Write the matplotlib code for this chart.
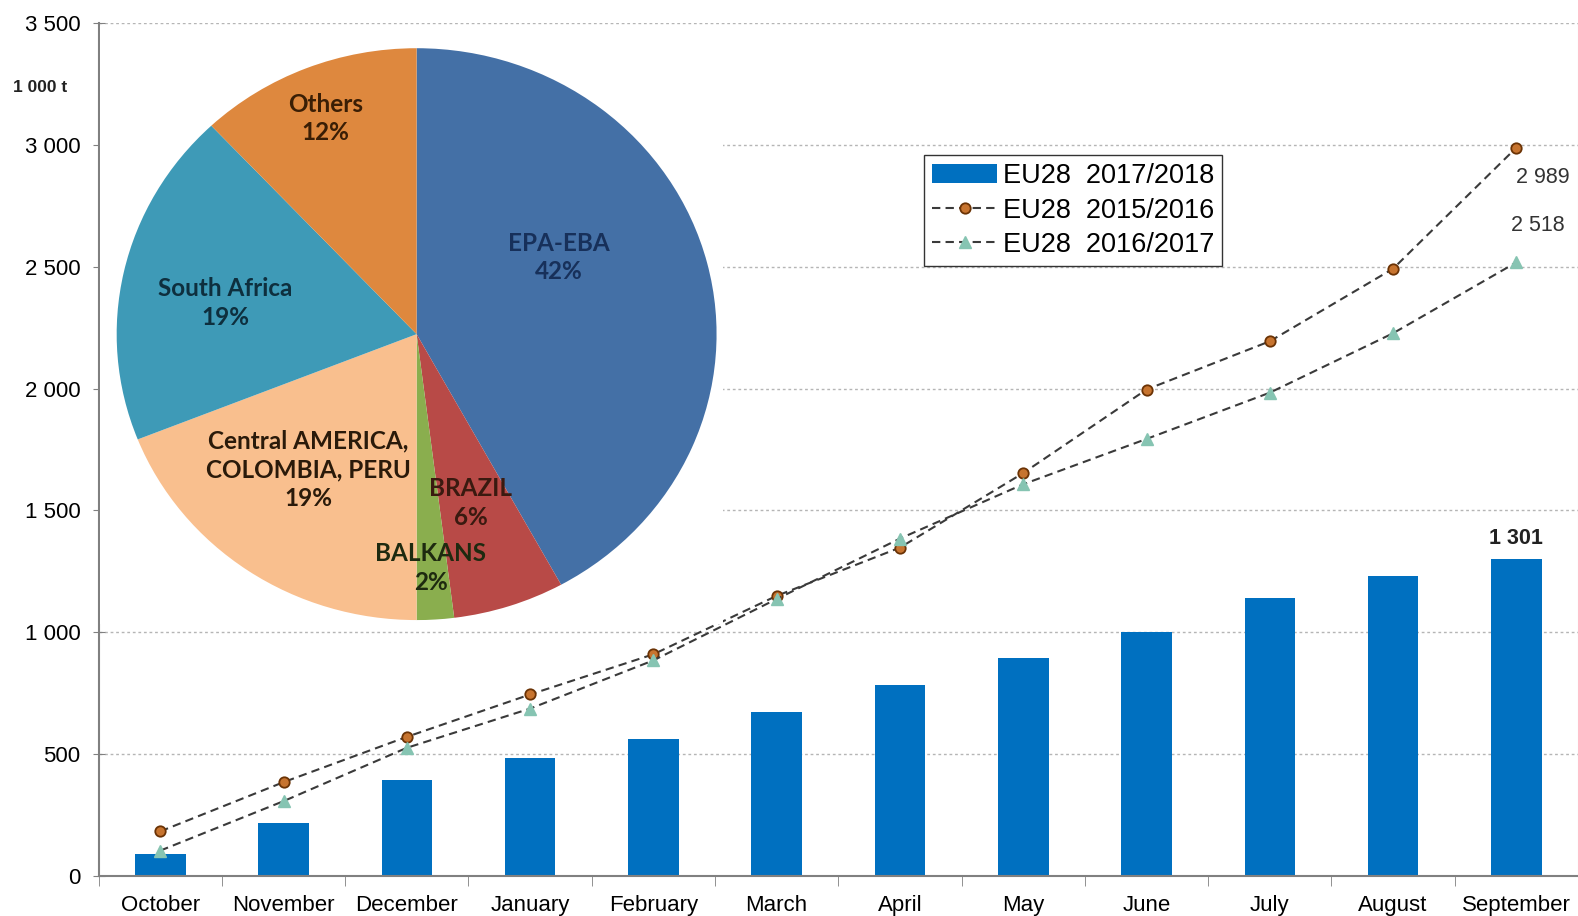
import matplotlib.pyplot as plt
import numpy as np
from matplotlib.ticker import FuncFormatter, FixedLocator

months = ['October', 'November', 'December', 'January', 'February', 'March',
          'April', 'May', 'June', 'July', 'August', 'September']
eu_2017_18 = [88, 215, 393, 483, 562, 674, 781, 893, 1000, 1140, 1231, 1301]
eu_2015_16 = [182, 384, 570, 744, 909, 1149, 1347, 1653, 1996, 2194, 2492, 2989]
eu_2016_17 = [103, 306, 525, 686, 884, 1136, 1384, 1607, 1793, 1983, 2227, 2518]

pie_labels = ['EPA-EBA', 'BRAZIL', 'BALKANS', 'Central AMERICA,\nCOLOMBIA, PERU',
              'South Africa', 'Others']
pie_shares = [42, 6, 2, 19, 19, 12]
pie_colors = ['#4470A6', '#B84A47', '#8AAE4E', '#F9BF8E', '#3E9AB7', '#DE883E']

plt.rcParams['font.family'] = ['Liberation Sans', 'DejaVu Sans']

fig = plt.figure(figsize=(15.78, 9.16), dpi=100)
ax = fig.add_axes([0.0625, 0.044, 0.9375, 0.9307])

x = np.arange(len(months))
ax.bar(x, eu_2017_18, width=0.41, color='#0070C0', zorder=2,
       label='EU28  2017/2018')
ax.plot(x, eu_2015_16, linestyle=(0, (4, 2.5)), color='#3a3a3a', lw=1.5,
        marker='o', ms=7.5, mfc='#C7742F', mec='#6B3305', mew=1.3, zorder=3,
        label='EU28  2015/2016')
ax.plot(x, eu_2016_17, linestyle=(0, (4, 2.5)), color='#3a3a3a', lw=1.5,
        marker='^', ms=8, mfc='#86C4B2', mec='#86C4B2', zorder=3,
        label='EU28  2016/2017')

ax.set_xlim(-0.5, len(months) - 0.5)
ax.set_ylim(0, 3500)
ax.set_yticks(np.arange(0, 3501, 500))
ax.yaxis.set_major_formatter(FuncFormatter(lambda v, p: f'{int(v):,}'.replace(',', ' ')))
ax.set_xticks(x)
ax.set_xticklabels(months)
ax.xaxis.set_minor_locator(FixedLocator(np.arange(-0.5, len(months), 1)))
ax.tick_params(axis='x', which='major', length=0, labelsize=16, pad=14)
ax.tick_params(axis='x', which='minor', length=7, color='#808080', direction='out')
ax.tick_params(axis='y', length=8, direction='inout', color='#808080', labelsize=16, pad=9)

ax.grid(axis='y', linestyle=(0, (2, 2)), color='#b5b5b5', lw=1)
ax.set_axisbelow(True)
for s in ['left', 'bottom']:
    ax.spines[s].set_color('#808080')
    ax.spines[s].set_linewidth(1.5)
ax.spines['top'].set_visible(False)
ax.spines['right'].set_color('#dddddd')

fig.text(0.008, 0.900, '1 000 t', fontsize=12.5, fontweight='bold', color='#222222')

ax.annotate('2 989', (x[-1], eu_2015_16[-1]), xytext=(0, -14),
            textcoords='offset points', ha='left', va='top', fontsize=15.5,
            color='#333333')
ax.annotate('2 518', (x[-1], eu_2016_17[-1]), xytext=(-4, 19),
            textcoords='offset points', ha='left', va='bottom', fontsize=15.5,
            color='#333333')
ax.annotate('1 301', (x[-1], eu_2017_18[-1]), xytext=(0, 11),
            textcoords='offset points', ha='center', fontsize=15.5,
            fontweight='bold', color='#222222')

handles, labels = ax.get_legend_handles_labels()
order = [2, 0, 1]
ax.legend([handles[i] for i in order], [labels[i] for i in order],
          loc='upper left', bbox_to_anchor=(0.558, 0.845), fontsize=19.5,
          frameon=True, fancybox=False, edgecolor='#333333', framealpha=1,
          handlelength=2.4, labelspacing=0.3, borderpad=0.3, handletextpad=0.2,
          borderaxespad=0)

# pie inset
pax = fig.add_axes([0.0631, 0.3187, 0.3948, 0.6527], zorder=5)
pax.pie(pie_shares, colors=pie_colors, startangle=90, counterclock=False,
        wedgeprops=dict(linewidth=0))
pax.set_aspect('auto')
pax.set_xlim(-1.057, 1.020)
pax.set_ylim(-1.014, 1.077)
pax.set_frame_on(True)
pax.set_facecolor('white')
for s in pax.spines.values():
    s.set_visible(False)
pax.set_xticks([])
pax.set_yticks([])

pie_font = ['Lato', 'DejaVu Sans']
label_pos = [(0.473, 0.268), (0.181, -0.59), (0.047, -0.817),
             (-0.362, -0.475), (-0.638, 0.109), (-0.305, 0.754)]
text_colors = ['#17305A', '#3A1A10', '#1E2A10', '#2A1A0A', '#0E2F3E', '#3A1E05']
for lab, share, (px, py), tc in zip(pie_labels, pie_shares, label_pos, text_colors):
    pax.text(px, py, f'{lab}\n{share}%', ha='center', va='center', fontsize=17.5,
             fontweight='bold', family=pie_font, color=tc, linespacing=1.3)

fig.savefig('out.png', dpi=100)
